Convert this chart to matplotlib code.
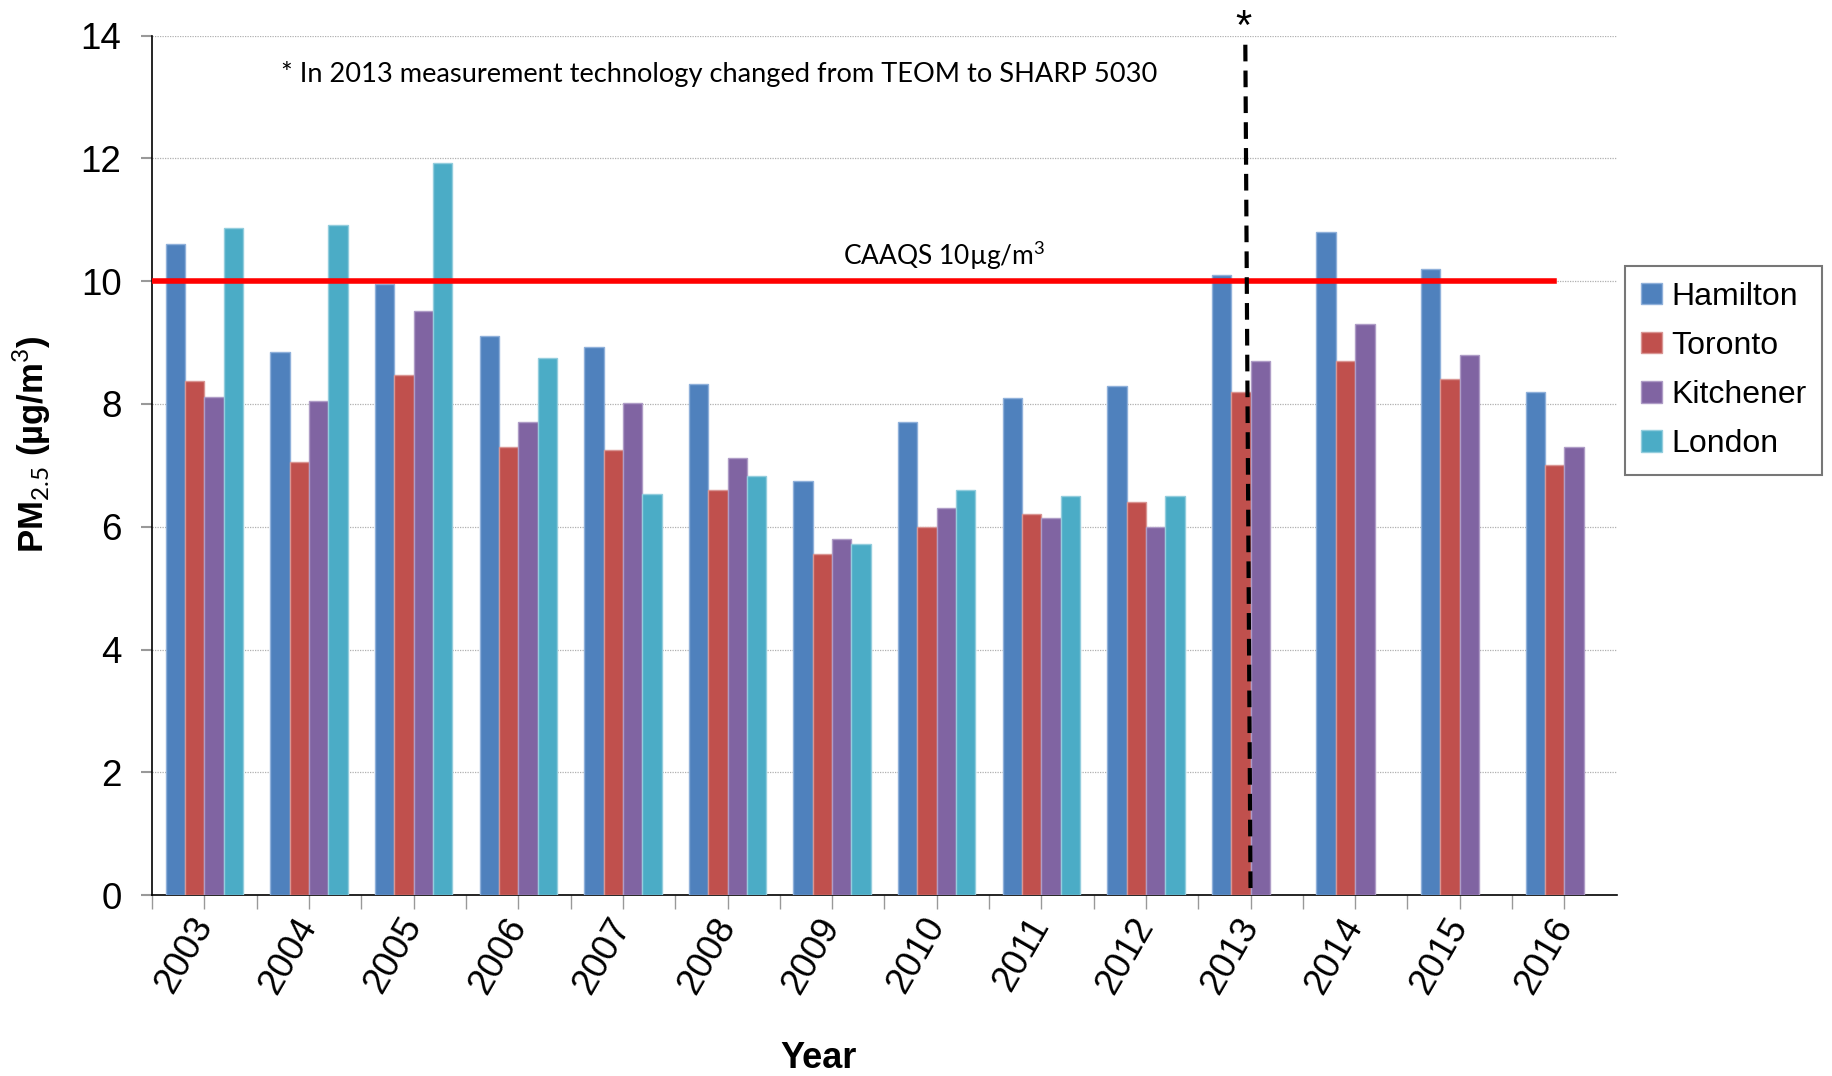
import numpy as np
import matplotlib.pyplot as plt

years = ["2003", "2004", "2005", "2006", "2007", "2008", "2009",
         "2010", "2011", "2012", "2013", "2014", "2015", "2016"]
hamilton = [10.6, 8.85, 9.95, 9.1, 8.93, 8.33, 6.75, 7.7, 8.1, 8.3, 10.1, 10.8, 10.2, 8.2]
toronto = [8.37, 7.05, 8.47, 7.3, 7.25, 6.6, 5.55, 6.0, 6.2, 6.4, 8.2, 8.7, 8.4, 7.0]
kitchener = [8.12, 8.05, 9.52, 7.7, 8.02, 7.12, 5.8, 6.3, 6.15, 6.0, 8.7, 9.3, 8.8, 7.3]
london = [10.86, 10.92, 11.93, 8.75, 6.53, 6.82, 5.72, 6.6, 6.5, 6.5, np.nan, np.nan, np.nan, np.nan]

series = [("Hamilton", hamilton, "#4F81BD", "#8FB0DA"),
          ("Toronto", toronto, "#C0504D", "#D99593"),
          ("Kitchener", kitchener, "#8064A2", "#AE9CC6"),
          ("London", london, "#4BACC6", "#93CDDD")]

caaqs = 10
change_year = 10  # index of 2013

plt.rcParams['font.family'] = ['Liberation Sans', 'DejaVu Sans']
plt.rcParams['mathtext.fontset'] = 'custom'
plt.rcParams['mathtext.rm'] = 'Lato'

fig = plt.figure(figsize=(18.33, 10.76), dpi=100)
ax = fig.add_axes([0.083, 0.168, 0.799, 0.799])

x = np.arange(len(years))
w = 0.185
for i, (name, vals, col, ec) in enumerate(series):
    ax.bar(x + (i - 1.5) * w, vals, w, color=col, edgecolor=ec, linewidth=1,
           label=name, zorder=3)

ax.set_xlim(-0.5, len(years) - 0.5)
ax.set_ylim(0, 14)
ax.set_yticks(np.arange(0, 15, 2))
ax.yaxis.grid(True, linestyle=(0, (1, 1)), color="#b0b0b0", linewidth=0.9, zorder=0)

# CAAQS standard line
ax.plot([-0.5, 12.9], [caaqs, caaqs], color="red", linewidth=4, zorder=4)
ax.text(7.07, 10.15, "CAAQS 10\u00b5g/m$\\mathregular{^3}$", family=["Lato", "DejaVu Sans"],
        fontsize=19, ha="center", va="bottom", zorder=5)

# measurement change marker
ax.plot([change_year - 0.05, change_year], [13.85, 0], color="black", linewidth=3,
        linestyle=(0, (4, 2.2)), zorder=5, clip_on=False)
ax.text(change_year - 0.07, 14.12, "*", fontsize=30, ha="center", va="center")
ax.text(0.73, 13.38, "* In 2013 measurement technology changed from TEOM to SHARP 5030",
        family=["Lato", "DejaVu Sans"], fontsize=19.6, ha="left", va="center")

for s in ["top", "right"]:
    ax.spines[s].set_visible(False)
ax.spines["left"].set_color("black")
ax.spines["bottom"].set_color("black")
ax.spines["left"].set_linewidth(1.2)
ax.spines["bottom"].set_linewidth(1.2)

ax.tick_params(axis="y", labelsize=26.5, length=8, color="#999999", width=1.5, pad=14)
ax.set_xticks(x - 0.5, minor=True)
ax.set_xticks(x)
ax.tick_params(axis="x", which="minor", length=10, color="#999999", width=1)
ax.tick_params(axis="x", which="major", length=10, color="#999999", width=1, pad=8)
ax.set_xticklabels(years, fontsize=26.5, rotation=60, ha="right", va="center",
                   rotation_mode="anchor")

ax.set_xlabel("Year", fontsize=26, fontweight="bold")
ax.xaxis.set_label_coords(0.455, -0.17)
ax.set_ylabel("PM$_{2.5}$ (\u00b5g/m$^{3}$)", fontsize=25, fontweight="bold")
ax.yaxis.set_label_coords(-0.068, 0.525)

leg = fig.legend(loc="upper left", bbox_to_anchor=(0.8865, 0.753), fontsize=23,
                 frameon=True, fancybox=False, edgecolor="#555555",
                 handlelength=0.65, handleheight=0.65, handletextpad=0.3,
                 labelspacing=0.6, borderpad=0.5, borderaxespad=0)
leg.get_frame().set_linewidth(1.5)

fig.savefig("out.png", dpi=100)
